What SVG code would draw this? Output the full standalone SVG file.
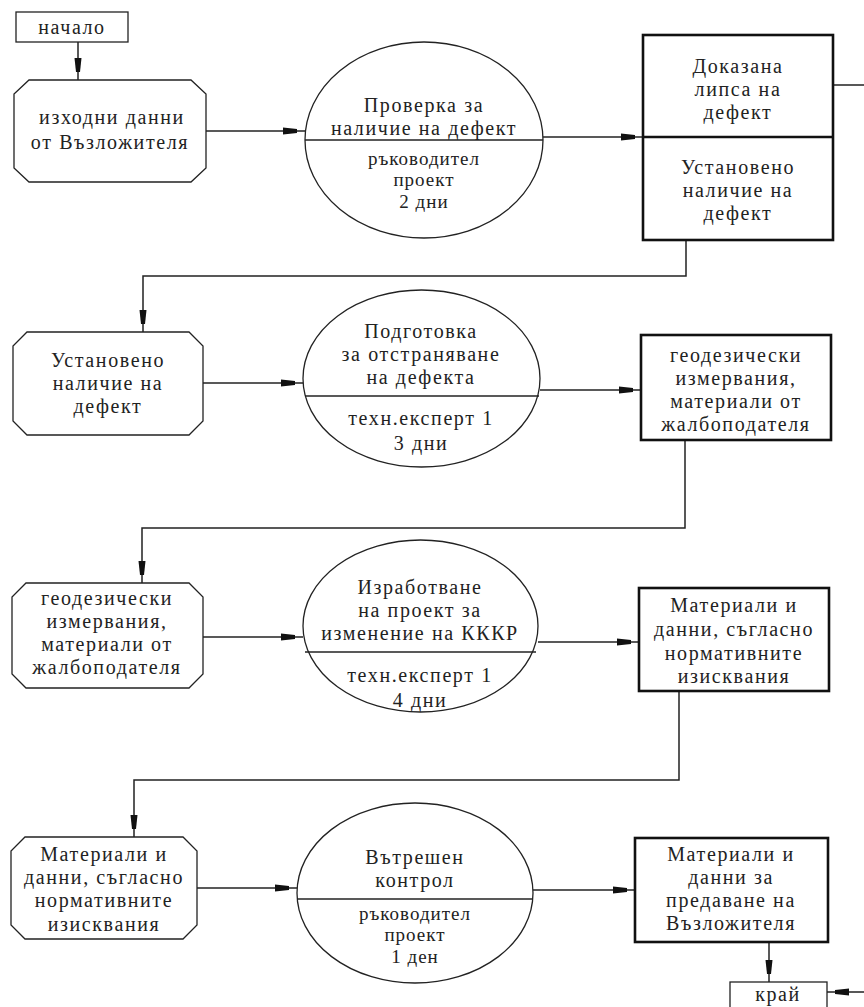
<svg xmlns="http://www.w3.org/2000/svg" width="864" height="1007" viewBox="0 0 864 1007">
<defs>
<style>
text{font-family:"Liberation Serif","DejaVu Serif",serif;font-size:20px;fill:#222;text-anchor:middle;letter-spacing:1.6px}
text.sm{font-size:19px;letter-spacing:1px}
.thin{fill:#fff;stroke:#222;stroke-width:1.3}
.thick{fill:#fff;stroke:#111;stroke-width:2.6}
.div{stroke:#222;stroke-width:1.5}
.conn{fill:none;stroke:#222;stroke-width:1.5;marker-end:url(#ah)}
</style>
<marker id="ah" viewBox="0 0 24 10" markerWidth="24" markerHeight="10" refX="22" refY="5" orient="auto" markerUnits="userSpaceOnUse">
<path d="M0,1.5 L14,3 L14,7 L0,8.5 Z" fill="#111"/>
</marker>
</defs>
<rect width="864" height="1007" fill="#fff"/>
<g id="connectors">
<path class="conn" d="M78,42 V80"/>
<path class="conn" d="M206,131 H305"/>
<path class="conn" d="M543,137 H643"/>
<path class="conn" d="M686,240 V276 H143 V332"/>
<path class="conn" d="M203,383 H303"/>
<path class="conn" d="M540,390 H641"/>
<path class="conn" d="M685,440 V528 H142 V583"/>
<path class="conn" d="M203,637 H303"/>
<path class="conn" d="M538,642 H639"/>
<path class="conn" d="M679,691 V780 H134 V837"/>
<path class="conn" d="M197,888 H297"/>
<path class="conn" d="M533,890 H635"/>
<path class="conn" d="M769,942 V982"/>
<path class="conn" d="M833,85 H868 V992 H827"/>
</g>
<g id="start">
<rect class="thin" x="16" y="12" width="112" height="30" stroke-width="1.6"/>
<text x="72" y="34">начало</text>
</g>
<g id="in1">
<polygon class="thin" points="29,80 191,80 206,94 206,168 191,182 29,182 14,168 14,94"/>
<text x="112" y="124">изходни данни</text>
<text x="110" y="149">от Възложителя</text>
</g>
<g id="proc1">
<ellipse class="thin" cx="424" cy="140" rx="119" ry="98"/>
<line class="div" x1="305" y1="140" x2="543" y2="140"/>
<text x="424" y="112">Проверка за</text>
<text x="424" y="135">наличие на дефект</text>
<text class="sm" x="424" y="165">ръководител</text>
<text class="sm" x="424" y="186">проект</text>
<text class="sm" x="424" y="208">2 дни</text>
</g>
<g id="out1">
<rect class="thick" x="643" y="35" width="190" height="205"/>
<line class="thick" x1="643" y1="137" x2="833" y2="137"/>
<text x="738" y="73">Доказана</text>
<text x="738" y="96">липса на</text>
<text x="738" y="119">дефект</text>
<text x="738" y="174">Установено</text>
<text x="738" y="197">наличие на</text>
<text x="738" y="220">дефект</text>
</g>
<g id="in2">
<polygon class="thin" points="27,332 189,332 203,346 203,421 189,435 27,435 13,421 13,346"/>
<text x="108" y="367">Установено</text>
<text x="108" y="390">наличие на</text>
<text x="108" y="413">дефект</text>
</g>
<g id="proc2">
<ellipse class="thin" cx="421.5" cy="378.5" rx="118.5" ry="88.5"/>
<line class="div" x1="305" y1="396" x2="539" y2="396"/>
<text x="421" y="338">Подготовка</text>
<text x="421" y="361">за отстраняване</text>
<text x="421" y="384">на дефекта</text>
<text x="421" y="425">техн.експерт 1</text>
<text x="421" y="450">3 дни</text>
</g>
<g id="out2">
<rect class="thick" x="641" y="335" width="190" height="105"/>
<text x="736" y="362">геодезически</text>
<text x="736" y="385">измервания,</text>
<text x="736" y="408">материали  от</text>
<text x="736" y="431">жалбоподателя</text>
</g>
<g id="in3">
<polygon class="thin" points="26,583 189,583 203,597 203,674 189,688 26,688 12,674 12,597"/>
<text x="107" y="605">геодезически</text>
<text x="107" y="628">измервания,</text>
<text x="107" y="651">материали  от</text>
<text x="107" y="674">жалбоподателя</text>
</g>
<g id="proc3">
<ellipse class="thin" cx="420.5" cy="626" rx="117.5" ry="86"/>
<line class="div" x1="305" y1="652" x2="536" y2="652"/>
<text x="420" y="594">Изработване</text>
<text x="420" y="617">на проект за</text>
<text x="420" y="640">изменение на КККР</text>
<text x="420" y="682">техн.експерт 1</text>
<text x="420" y="707">4 дни</text>
</g>
<g id="out3">
<rect class="thick" x="639" y="588" width="190" height="103"/>
<text x="734" y="612">Материали и</text>
<text x="734" y="636">данни, съгласно</text>
<text x="734" y="660">нормативните</text>
<text x="734" y="683">изисквания</text>
</g>
<g id="in4">
<polygon class="thin" points="25,837 183,837 197,851 197,925 183,939 25,939 11,925 11,851"/>
<text x="104" y="861">Материали и</text>
<text x="104" y="884">данни, съгласно</text>
<text x="104" y="907">нормативните</text>
<text x="104" y="931">изисквания</text>
</g>
<g id="proc4">
<ellipse class="thin" cx="415" cy="893" rx="118" ry="90"/>
<line class="div" x1="298" y1="899" x2="532" y2="899"/>
<text x="415" y="864">Вътрешен</text>
<text x="415" y="887">контрол</text>
<text class="sm" x="415" y="920">ръководител</text>
<text class="sm" x="415" y="941">проект</text>
<text class="sm" x="415" y="963">1 ден</text>
</g>
<g id="out4">
<rect class="thick" x="635" y="838" width="193" height="104"/>
<text x="731" y="861">Материали и</text>
<text x="731" y="884">данни за</text>
<text x="731" y="907">предаване на</text>
<text x="731" y="930">Възложителя</text>
</g>
<g id="end">
<rect class="thin" x="730" y="982" width="97" height="40" stroke-width="1.6"/>
<text x="778" y="1001">край</text>
</g>
</svg>
